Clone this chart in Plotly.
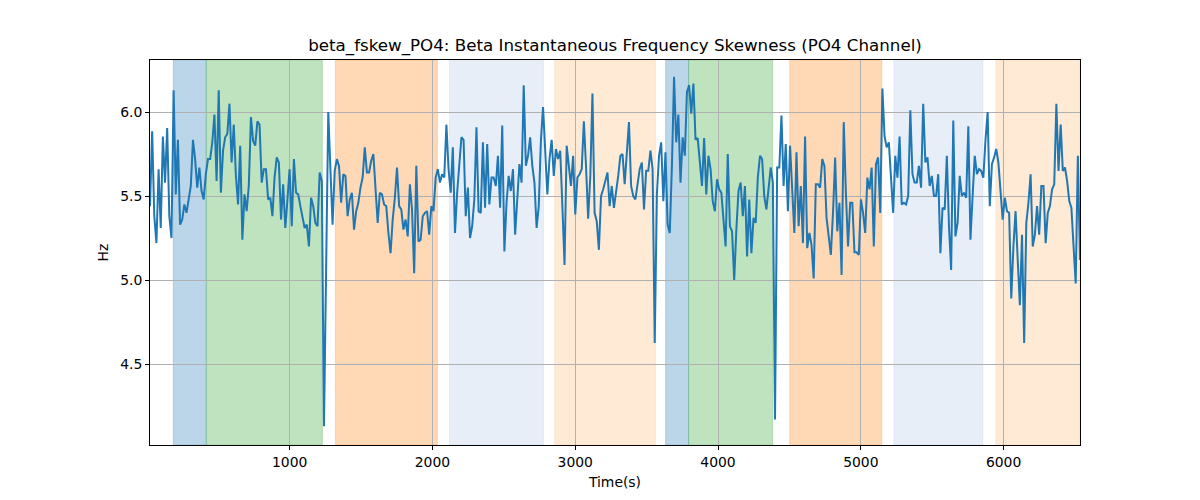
import numpy as np
import plotly.graph_objects as go

# Sampling grid of the signal (seconds)
t_start = 22.0
t_end = 6535.0

values = [
    5.44, 5.885, 5.38, 5.22, 5.66, 5.31, 5.855, 5.58, 5.905, 5.38,
    5.25, 6.13, 5.51, 5.835, 5.33, 5.36, 5.45, 5.40, 5.48, 5.56,
    5.835, 5.72, 5.55, 5.67, 5.53, 5.48, 5.63, 5.72, 5.72, 5.82,
    5.985, 5.59, 6.13, 5.52, 5.77, 5.85, 5.87, 6.05, 5.70, 5.925,
    5.62, 5.45, 5.80, 5.24, 5.51, 5.41, 5.56, 5.97, 5.83, 5.80,
    5.945, 5.925, 5.58, 5.66, 5.66, 5.48, 5.49, 5.38, 5.61, 5.73,
    5.70, 5.36, 5.57, 5.31, 5.48, 5.66, 5.32, 5.72, 5.52, 5.51,
    5.44, 5.38, 5.31,
    5.33, 5.20, 5.49, 5.44, 5.34, 5.32, 5.64, 5.59, 4.13, 5.10,
    6.00, 5.66, 5.33, 5.65, 5.72, 5.68, 5.46, 5.63, 5.62, 5.38,
    5.48, 5.52, 5.30, 5.41, 5.46, 5.55, 5.61, 5.79, 5.64, 5.64,
    5.71, 5.75, 5.57, 5.34, 5.52, 5.51, 5.45, 5.44, 5.28, 5.16,
    5.36, 5.49, 5.67, 5.44, 5.42, 5.30, 5.36, 5.26, 5.57, 5.42,
    5.04, 5.68, 5.23, 5.24, 5.38, 5.40, 5.41, 5.27, 5.44, 5.41,
    5.61, 5.66, 5.58, 5.63, 5.61, 5.925, 5.66, 5.52, 5.79, 5.28,
    5.52,
    5.70, 5.85, 5.835, 5.38, 5.55, 5.25, 5.32, 5.48, 5.91, 5.41,
    5.40, 5.82, 5.43, 5.81, 5.45, 5.61, 5.61, 5.56, 5.74, 5.43,
    5.92, 5.17, 5.46, 5.62, 5.53, 5.66, 5.27, 5.48, 5.69, 5.58,
    6.16, 5.68, 5.74, 5.85, 5.68, 5.58, 5.31, 5.44, 5.83, 6.03,
    5.74, 5.51, 5.72, 5.835, 5.62, 5.78, 5.72, 5.77, 5.44, 5.09,
    5.80, 5.68, 5.56, 5.74, 5.39, 5.61, 5.63, 5.66, 5.945, 5.68,
    5.365, 5.62, 6.11, 5.40, 5.35, 5.18, 5.50, 5.54, 5.60, 5.64,
    5.44,
    5.56, 5.43, 5.52, 5.62, 5.74, 5.75, 5.57, 5.73, 5.94, 5.56,
    5.50, 5.48, 5.56, 5.66, 5.70, 5.42, 5.65, 5.65, 5.77, 5.66,
    4.625, 5.51, 5.74, 5.82, 5.47, 5.76, 5.33, 5.28, 5.68, 6.21,
    5.82, 5.985, 5.58, 5.85, 5.74, 6.12, 6.16, 5.99, 6.17, 5.835,
    5.845, 5.68, 5.56, 5.845, 5.51, 5.74, 5.66, 5.47, 5.41, 5.60,
    5.54, 5.52, 5.34, 5.20, 5.75, 5.32, 5.29, 5.00, 5.30, 5.53,
    5.58, 5.38, 5.56, 5.14, 5.48, 5.16, 5.37, 5.34, 5.61, 5.74,
    5.72,
    5.50, 5.42, 5.56, 5.67, 5.58, 4.17, 5.67, 5.67, 5.98, 5.56,
    5.81, 5.41, 5.80, 5.56, 5.28, 5.76, 5.32, 5.56, 5.22, 5.855,
    5.19, 5.28, 5.21, 5.01, 5.57, 5.57, 5.55, 5.72, 5.68, 5.37,
    5.26, 5.15, 5.40, 5.73, 5.29, 5.46, 5.03, 5.94, 5.52, 5.20,
    5.46, 5.46, 5.165, 5.165, 5.15, 5.48, 5.40, 5.28, 5.61, 5.54,
    5.67, 5.20, 5.69, 5.73, 5.40, 6.14, 5.855, 5.79, 5.82, 5.64,
    5.40, 5.74, 5.61, 5.855, 5.45, 5.46, 5.45, 5.50, 6.01, 5.63,
    5.58,
    5.58, 5.68, 5.55, 6.05, 5.70, 5.73, 5.56, 5.62, 5.50, 5.50,
    5.63, 5.16, 5.43, 5.42, 5.74, 5.32, 5.06, 5.95, 5.26, 5.34,
    5.62, 5.50, 5.52, 5.49, 5.915, 5.24, 5.50, 5.74, 5.63, 5.66,
    5.65, 5.61, 5.835, 6.00, 5.44, 5.69, 5.73, 5.78, 5.70, 5.52,
    5.36, 5.49, 5.41, 5.40, 4.89, 5.20, 5.41, 5.12, 4.85, 5.27,
    4.625, 5.34, 5.46, 5.63, 5.20, 5.27, 5.44, 5.27, 5.56, 5.56,
    5.22, 5.40, 5.44, 5.54, 5.57, 6.05, 5.65, 5.925, 5.65, 5.67,
    5.59, 5.47, 5.43, 5.20, 4.98, 5.74, 5.12,
]

times = np.linspace(t_start, t_end, len(values))

# Shaded segments: start, end, colour name
span_starts = [185, 416, 1320, 2119, 2856, 3633, 3794, 4502, 5231, 5945]
span_ends = [416, 1229, 2035, 2778, 3563, 3794, 4383, 5147, 5855, 6535]
span_kinds = ["blue", "green", "orange", "lightblue", "lightorange",
              "blue", "green", "orange", "lightblue", "lightorange"]

span_colors = {
    "blue": "rgba(31,119,180,0.3)",
    "green": "rgba(44,160,44,0.3)",
    "orange": "rgba(255,127,14,0.3)",
    "lightblue": "rgba(174,199,232,0.3)",
    "lightorange": "rgba(255,187,120,0.3)",
}

x_ticks = [1000, 2000, 3000, 4000, 5000, 6000]
y_ticks = [4.5, 5.0, 5.5, 6.0]
y_tick_text = ["4.5", "5.0", "5.5", "6.0"]

fig = go.Figure()

for s, e, k in zip(span_starts, span_ends, span_kinds):
    fig.add_vrect(x0=s, x1=e, fillcolor=span_colors[k], line_width=0.8,
                  line_color=span_colors[k], layer="below")

fig.add_trace(go.Scatter(x=times, y=values, mode="lines",
                         line=dict(color="#1f77b4", width=2),
                         showlegend=False, hoverinfo="x+y"))

fig.update_layout(
    width=1200, height=500,
    margin=dict(l=142, r=128, t=52, b=63),
    paper_bgcolor="white", plot_bgcolor="rgba(0,0,0,0)",
    font=dict(family="DejaVu Sans", size=13.9, color="black"),
    title=dict(text="beta_fskew_PO4: Beta Instantaneous Frequency Skewness (PO4 Channel)",
               x=0.5, xref="paper", xanchor="center",
               y=1, yref="container", yanchor="top", pad=dict(t=31),
               font=dict(size=16.7, color="black")),
    showlegend=False,
)

fig.update_xaxes(
    range=[t_start, t_end], tickvals=x_ticks, ticktext=[str(v) for v in x_ticks],
    showgrid=True, gridcolor="#b0b0b0", gridwidth=0.8,
    showline=True, linecolor="black", linewidth=1, mirror=True,
    ticks="outside", ticklen=4, tickcolor="black", zeroline=False,
    title=dict(text="Time(s)", font=dict(size=13.9), standoff=8),
    tickfont=dict(size=13.9), layer="above traces",
)
fig.update_yaxes(
    range=[4.018, 6.31], tickvals=y_ticks, ticktext=y_tick_text,
    showgrid=True, gridcolor="#b0b0b0", gridwidth=0.8,
    showline=True, linecolor="black", linewidth=1, mirror=True,
    ticks="outside", ticklen=4, tickcolor="black", zeroline=False,
    title=dict(text="Hz", font=dict(size=13.9), standoff=8),
    tickfont=dict(size=13.9), layer="above traces",
)

fig.write_html("out.html")
